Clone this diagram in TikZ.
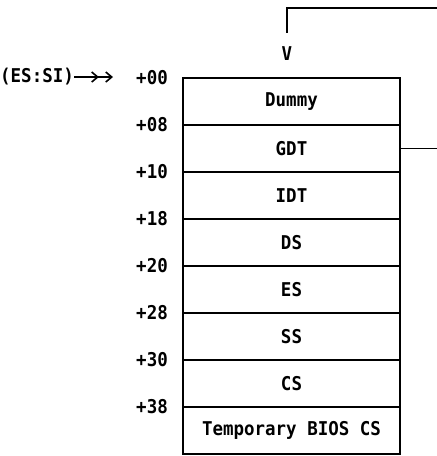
\documentclass[tikz,border=0pt]{standalone}
\usepackage{fontspec}
\setmonofont[FakeStretch=0.92]{DejaVu Sans Mono}
\usetikzlibrary{positioning,arrows.meta}

\tikzset{
  testo/.style={font=\ttfamily\bfseries\fontsize{19}{21}\selectfont},
  riga/.style={testo, draw, line width=1.6pt, minimum width=217pt,
    minimum height=47pt, inner sep=0pt, outer sep=0pt},
  offs/.style={testo, anchor=east, inner sep=0pt},
  linea/.style={line width=1.6pt},
}

\begin{document}
\begin{tikzpicture}[x=1pt,y=-1pt]
        \useasboundingbox (0,0) rectangle (437,456);

        % Tabella dei descrittori
        \node[riga] (dummy) at (291.5,101.5) {Dummy};
        \node[riga, below=0pt of dummy] (gdt) {GDT};
        \node[riga, below=0pt of gdt] (idt) {IDT};
        \node[riga, below=0pt of idt] (ds) {DS};
        \node[riga, below=0pt of ds] (es) {ES};
        \node[riga, below=0pt of es] (ss) {SS};
        \node[riga, below=0pt of ss] (cs) {CS};
        \node[riga, below=0pt of cs] (tbios) {Temporary BIOS CS};

        % Offset a sinistra
        \node[offs] (o00) at ([xshift=-15pt]dummy.north west) {+00};
        \node[offs] at ([xshift=-15pt]gdt.north west) {+08};
        \node[offs] at ([xshift=-15pt]idt.north west) {+10};
        \node[offs] at ([xshift=-15pt]ds.north west) {+18};
        \node[offs] at ([xshift=-15pt]es.north west) {+20};
        \node[offs] at ([xshift=-15pt]ss.north west) {+28};
        \node[offs] at ([xshift=-15pt]cs.north west) {+30};
        \node[offs] at ([xshift=-15pt]tbios.north west) {+38};

        % Puntatore ES:SI
        \node[testo, anchor=west, inner sep=0pt] (essi) at (0,77) {(ES:SI)};
        \coordinate (punta) at (113,77);
        \draw[linea, -{Straight Barb[length=6pt,width=10pt,sep=6pt]Straight Barb[length=6pt,width=10pt]}]
              (essi.east) -- (punta);

        % Freccia dall'alto
        \coordinate (fuori) at (437,8);
        \coordinate (giu) at (287,33);
        \node[testo, inner sep=0pt] (vv) at (287,53.5) {V};
        \draw[linea] (fuori) -| (giu);

        % Uscita dalla GDT
        \coordinate (gdtfuori) at (437,148.5);
        \draw[linea] (gdt.east) -- (gdtfuori);

\end{tikzpicture}
\end{document}
